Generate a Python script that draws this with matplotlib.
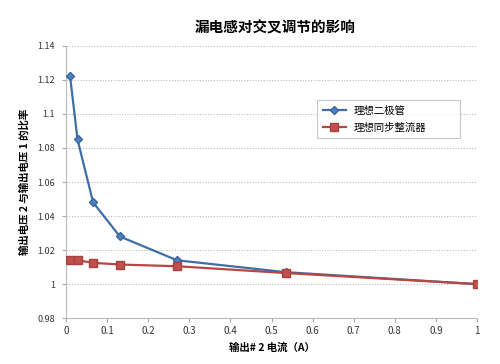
import matplotlib
matplotlib.use("Agg")
import matplotlib.pyplot as plt
from matplotlib.ticker import FixedLocator

plt.rcParams['font.family'] = ['Noto Sans CJK SC', 'DejaVu Sans']

title = "漏电感对交叉调节的影响"
xlabel = "输出# 2 电流（A）"
ylabel = "输出电压 2 与输出电压 1 的比率"
series_names = ["理想二极管", "理想同步整流器"]

x_vals = [0.01, 0.028, 0.066, 0.131, 0.27, 0.535, 1.0]
diode = [1.122, 1.085, 1.048, 1.028, 1.014, 1.007, 1.0]
sync_x = [0.01, 0.028, 0.066, 0.131, 0.27, 0.535, 1.0]
sync = [1.014, 1.014, 1.0125, 1.0115, 1.0105, 1.0065, 1.0]

xticks = [0, 0.1, 0.2, 0.3, 0.4, 0.5, 0.6, 0.7, 0.8, 0.9, 1]
xticklabels = ["0", "0.1", "0.2", "0.3", "0.4", "0.5", "0.6", "0.7", "0.8", "0.9", "1"]
yticks = [0.98, 1.0, 1.02, 1.04, 1.06, 1.08, 1.1, 1.12, 1.14]
yticklabels = ["0.98", "1", "1.02", "1.04", "1.06", "1.08", "1.1", "1.12", "1.14"]

fig = plt.figure(figsize=(5.0, 3.64), dpi=100)
ax = fig.add_axes([0.132, 0.126, 0.822, 0.748])

ax.plot(x_vals, diode, color='#3F6DA6', lw=1.6, marker='D', ms=4.5,
        mfc='#4F81BD', mec='#3A65A0', label=series_names[0], zorder=3)
ax.plot(sync_x, sync, color='#B94643', lw=1.6, marker='s', ms=6,
        mfc='#C0504D', mec='#A8403D', label=series_names[1], zorder=3)

ax.set_xlim(0, 1)
ax.set_ylim(0.98, 1.14)
ax.xaxis.set_major_locator(FixedLocator(xticks))
ax.set_xticklabels(xticklabels, fontsize=7, color='#333333')
ax.yaxis.set_major_locator(FixedLocator(yticks))
ax.set_yticklabels(yticklabels, fontsize=6.5, color='#333333')
ax.tick_params(axis='x', direction='out', length=3, color='#AAAAAA', pad=3)
ax.tick_params(axis='y', direction='out', length=3, color='#AAAAAA', pad=5)

for s in ['top', 'right']:
    ax.spines[s].set_visible(False)
for s in ['left', 'bottom']:
    ax.spines[s].set_color('#BBBBBB')
ax.yaxis.grid(True, linestyle=(0, (1, 1.5)), color='#BBBBBB', lw=0.8)
ax.set_axisbelow(True)

fig.text(0.55, 0.925, title, ha='center', va='center', fontsize=10.5, fontweight='bold')
ax.set_xlabel(xlabel, fontsize=7.5, fontweight='bold', labelpad=4)
ax.set_ylabel(ylabel, fontsize=7.5, fontweight='bold', labelpad=5)

leg = ax.legend(loc='upper left', bbox_to_anchor=(0.599, 0.68, 0.372, 0.139),
                mode='expand', fontsize=7.5,
                frameon=True, fancybox=False, edgecolor='#BBBBBB',
                handlelength=2.2, borderpad=0.5, labelspacing=0.7)
leg.get_frame().set_linewidth(0.8)

fig.savefig("out.png", dpi=100)
